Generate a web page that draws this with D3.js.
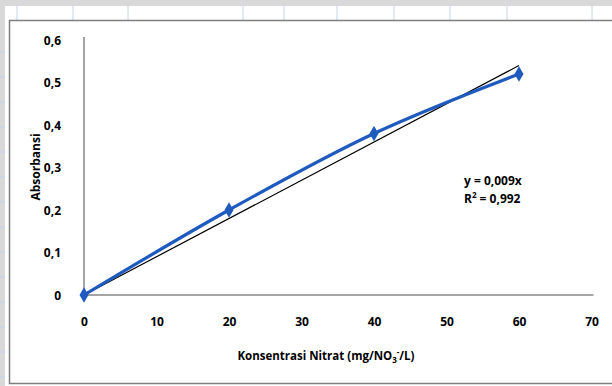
<!DOCTYPE html>
<html>
<head>
<meta charset="utf-8">
<script src="https://cdn.jsdelivr.net/npm/d3@7"></script>
<style>
  html, body { margin: 0; padding: 0; background: #fff; }
  svg { display: block; }
  text { font-family: "Liberation Sans Narrow", "Open Sans", "Liberation Sans", sans-serif; font-weight: bold; fill: #000; }
</style>
</head>
<body>
<svg id="chart" width="612" height="386"></svg>
<script>
// Calibration data: nitrate concentration vs absorbance
const concentrations = [0, 20, 40, 60];
const absorbances = [0, 0.2, 0.38, 0.52];
const xTicks = [0, 10, 20, 30, 40, 50, 60, 70];
const yTicks = [0, 0.1, 0.2, 0.3, 0.4, 0.5, 0.6];
const trendSlope = 0.009;
const trendRange = [0, 60];
const equationLines = ["y = 0,009x", "R\u00b2 = 0,992"];

const W = 612, H = 386;
const svg = d3.select("#chart");

// sheet background around the chart frame
svg.append("rect").attr("width", W).attr("height", H).attr("fill", "#d9d9d9");
svg.append("rect").attr("x", 5).attr("y", 6).attr("width", W - 5).attr("height", H - 6).attr("fill", "#ffffff");
[17, 73, 128, 243, 284, 337, 394, 450, 507, 592].forEach(x => {
  svg.append("line").attr("x1", x).attr("x2", x).attr("y1", 6).attr("y2", 20)
    .attr("stroke", "#c6d4ea").attr("stroke-width", 1);
});
d3.range(52, 380, 25).forEach(y => {
  svg.append("line").attr("x1", 0).attr("x2", 5).attr("y1", y).attr("y2", y)
    .attr("stroke", "#c6d4ea").attr("stroke-width", 1);
});

// chart frame
svg.append("rect").attr("x", 9.5).attr("y", 20.5).attr("width", W).attr("height", 363)
  .attr("fill", "#ffffff").attr("stroke", "#7f7f7f").attr("stroke-width", 1.5);

const x = d3.scaleLinear().domain([0, 70]).range([84, 591.5]);
const y = d3.scaleLinear().domain([0, 0.6]).range([295, 40]);

const fmt = v => d3.format(".1f")(v).replace(".", ",");
const yFmt = v => v === 0 ? "0" : fmt(v);

// axes
const xAxis = svg.append("g").attr("transform", `translate(0,${y(0)})`)
  .call(d3.axisBottom(x).tickValues(xTicks).tickSize(0).tickPadding(22).tickFormat(d3.format("d")));
const yAxis = svg.append("g").attr("transform", `translate(${x(0)},0)`)
  .call(d3.axisLeft(y).tickValues(yTicks).tickSize(0).tickPadding(23).tickFormat(yFmt));
[xAxis, yAxis].forEach(g => {
  g.select(".domain").attr("stroke", "#878787").attr("stroke-width", 1.5);
  g.selectAll("text").attr("font-size", 12).attr("font-family", null).attr("fill", "#000");
});
xAxis.select(".domain").attr("d", `M${x(0)},0H${x(70) + 2}`);
yAxis.select(".domain").attr("d", `M0,${y(0)}V${y(0.6) - 3}`);
yAxis.selectAll("text").attr("dy", "0.35em");

// linear trendline through origin
svg.append("line")
  .attr("x1", x(trendRange[0])).attr("y1", y(trendSlope * trendRange[0]))
  .attr("x2", x(trendRange[1])).attr("y2", y(trendSlope * trendRange[1]))
  .attr("stroke", "#000").attr("stroke-width", 1.2);

// smoothed data series
const pts = concentrations.map((c, i) => [x(c), y(absorbances[i])]);
svg.append("path")
  .attr("d", d3.line().curve(d3.curveCatmullRom.alpha(0.5))(pts))
  .attr("fill", "none").attr("stroke", "#1f5bbf").attr("stroke-width", 3.2);

// diamond markers
svg.selectAll(".mk").data(pts).join("path")
  .attr("class", "mk")
  .attr("transform", d => `translate(${d[0]},${d[1]})`)
  .attr("d", d3.symbol().type(d3.symbolDiamond).size(70))
  .attr("fill", "#1f5bbf");

// regression equation
svg.append("text").attr("x", 464).attr("y", 185).attr("font-size", 12).text(equationLines[0]);
const r2 = svg.append("text").attr("x", 464).attr("y", 203).attr("font-size", 12);
r2.append("tspan").text("R");
r2.append("tspan").attr("font-size", 8).attr("dy", -5).text("2");
r2.append("tspan").attr("dy", 5).text(" = 0,992");

// axis titles
svg.append("text").attr("transform", "translate(40,167) rotate(-90)")
  .attr("text-anchor", "middle").attr("font-size", 12).text("Absorbansi");
const xt = svg.append("text").attr("x", 326).attr("y", 360).attr("text-anchor", "middle").attr("font-size", 11.5);
xt.append("tspan").text("Konsentrasi Nitrat (mg/NO");
xt.append("tspan").attr("font-size", 8).attr("dy", 3).text("3");
xt.append("tspan").attr("font-size", 8).attr("dy", -8).text("-");
xt.append("tspan").attr("dy", 5).text("/L)");
</script>
</body>
</html>
